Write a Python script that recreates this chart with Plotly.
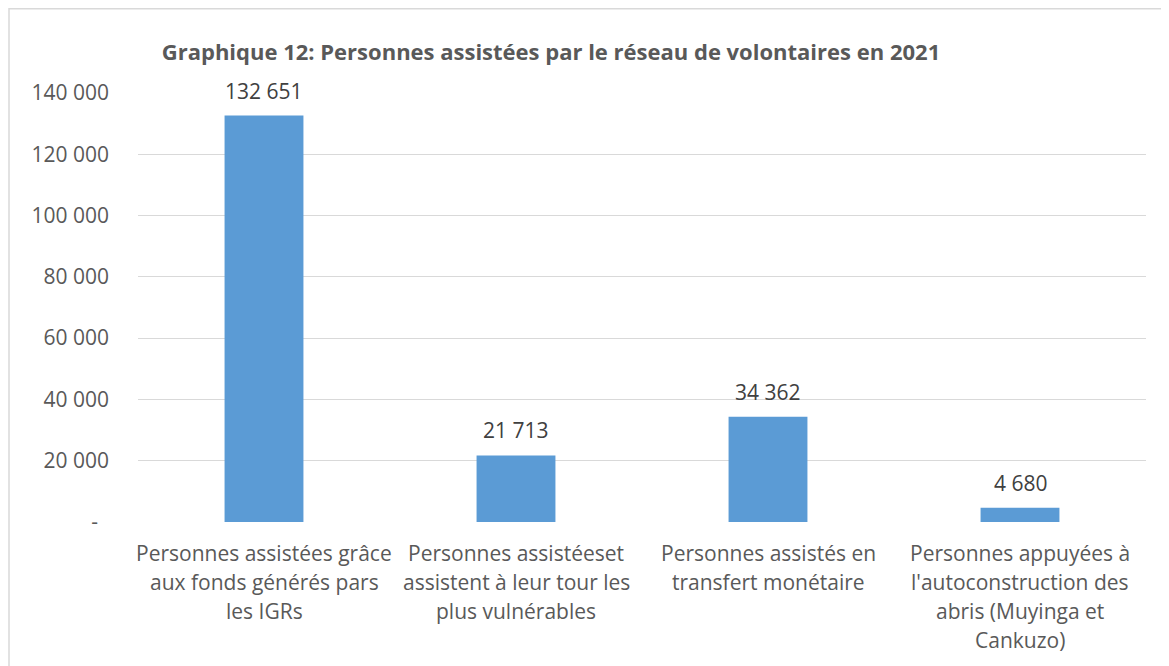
import plotly.graph_objects as go

categories = [
    "Personnes assistées grâce<br>aux fonds générés pars<br>les IGRs",
    "Personnes assistéeset<br>assistent à leur tour les<br>plus vulnérables",
    "Personnes assistés en<br>transfert monétaire",
    "Personnes appuyées à<br>l'autoconstruction des<br>abris (Muyinga et<br>Cankuzo)",
]
values = [132651, 21713, 34362, 4680]
value_labels = ["132 651", "21 713", "34 362", "4 680"]
tick_vals = [0, 20000, 40000, 60000, 80000, 100000, 120000, 140000]
tick_text = ["-\u00a0\u00a0", "20 000", "40 000", "60 000", "80 000", "100 000", "120 000", "140 000"]
title_text = "Graphique 12: Personnes assistées par le réseau de volontaires en 2021"

FONT = "Open Sans, Noto Sans, sans-serif"
TXT = "#595959"

# page body has an 8px margin; figure sized to fit
W, H = 1161, 658
L, R, T, B = 130, 23, 85, 144
PW, PH = W - L - R, H - T - B

fig = go.Figure()
fig.add_trace(go.Bar(x=list(range(len(categories))), y=values,
                     marker=dict(color="#5B9BD5", line=dict(width=0)),
                     hoverinfo="skip"))

annotations = []
for i, (v, lab) in enumerate(zip(values, value_labels)):
    annotations.append(dict(x=i, y=v, xref="x", yref="y", text=lab, showarrow=False,
                            yanchor="middle", yshift=25,
                            font=dict(family=FONT, size=21, color="#404040")))
for i, cat in enumerate(categories):
    for j, line in enumerate(cat.split("<br>")):
        annotations.append(dict(x=i, y=0, xref="x", yref="paper", text=line, showarrow=False,
                                yanchor="middle", yshift=-(31 + 29 * j),
                                font=dict(family=FONT, size=21, color=TXT)))

fig.update_layout(
    width=W, height=H,
    margin=dict(l=L, r=R, t=T, b=B),
    paper_bgcolor="white", plot_bgcolor="white",
    showlegend=False,
    bargap=0.687,
    title=dict(text="<b>" + title_text + "</b>", x=543 / W, xanchor="center",
               y=1 - 44 / H, yanchor="middle",
               font=dict(family=FONT, size=22, color=TXT)),
    xaxis=dict(range=[-0.5, len(categories) - 0.5], showticklabels=False,
               showgrid=False, zeroline=False, showline=False, fixedrange=True),
    yaxis=dict(range=[0, 140000], tickvals=tick_vals, ticktext=tick_text,
               showgrid=True, gridcolor="#d9d9d9", gridwidth=1.3,
               zeroline=False, showline=False, ticklabelstandoff=28,
               tickfont=dict(family=FONT, size=21, color=TXT), fixedrange=True),
    annotations=annotations,
    shapes=[dict(type="rect", xref="paper", yref="paper",
                 x0=(1 - L) / PW, x1=1.2, y0=-0.6, y1=(H - B - 0.75) / PH,
                 line=dict(color="#d9d9d9", width=1.5), fillcolor="rgba(0,0,0,0)", layer="below")],
)

fig.write_html("out.html")
